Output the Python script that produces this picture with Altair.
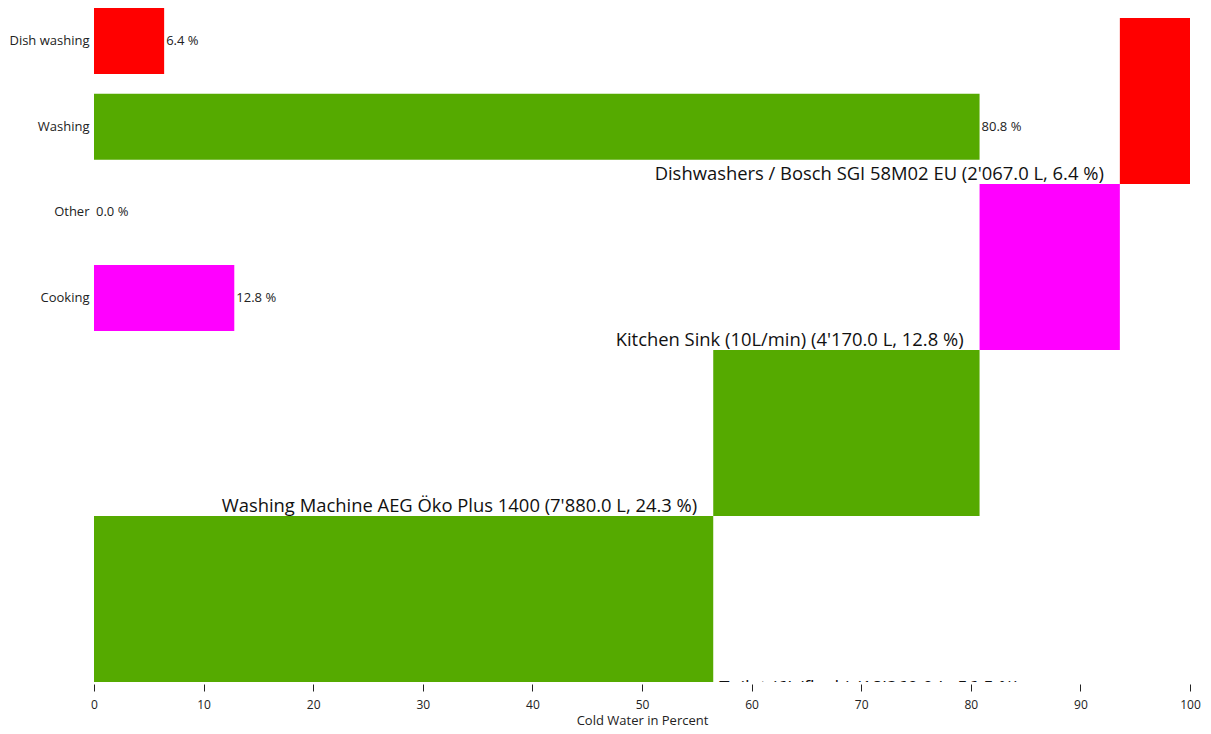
import altair as alt
import pandas as pd

# Category totals (top bars)
categories = ["Dish washing", "Washing", "Other", "Cooking"]
category_pct = [6.4, 80.8, 0.0, 12.8]
category_colors = ["#FF0000", "#55AA00", "#999999", "#FF00FF"]

# Individual consumers (stair rectangles)
items = [
    "Toilet (6L/flush)",
    "Washing Machine AEG Öko Plus 1400",
    "Kitchen Sink (10L/min)",
    "Dishwashers / Bosch SGI 58M02 EU",
]
item_category = ["Washing", "Washing", "Cooking", "Dish washing"]
item_liters = [18360.0, 7880.0, 4170.0, 2067.0]
item_pct = [56.5, 24.3, 12.8, 6.4]
item_step = [1, 2, 3, 4]

FONT = "Open Sans"

cat_df = pd.DataFrame({"cat": categories, "pct": category_pct})
cat_df["label"] = cat_df["pct"].map(lambda v: f"{v:.1f} %")


def fmt_l(v):
    return f"{v:,.1f}".replace(",", "'")


it = pd.DataFrame({
    "item": items, "cat": item_category, "liters": item_liters,
    "pct": item_pct, "step": item_step,
})
it["end"] = it["pct"].cumsum()
it["start"] = it["end"] - it["pct"]
it["bottom"] = it["step"] - 1
it["label"] = [f"{n} ({fmt_l(l)} L, {p:.1f} %)" for n, l, p in zip(it["item"], it["liters"], it["pct"])]

main_labels = it.iloc[1:].copy()
first_label = it.iloc[:1].copy()

x_scale = alt.Scale(domain=[0, 100], nice=False, zero=True)
color_scale = alt.Scale(domain=categories, range=category_colors)
y_band = alt.Scale(domain=categories, range=[-1, 322], paddingInner=0.23, paddingOuter=0)
y_step = alt.Scale(domain=[0, 4], range=[673, 9], nice=False, zero=False)

x_axis = alt.Axis(
    values=list(range(0, 101, 10)), domain=False, grid=False, tickSize=7, offset=2,
    tickColor="#222", labelColor="#222", titleColor="#222", labelFlush=False,
    labelFont=FONT, titleFont=FONT, labelFontSize=12, titleFontSize=13,
    titleFontWeight="normal", labelPadding=8, titlePadding=4,
)

bars = alt.Chart(cat_df).mark_bar().encode(
    x=alt.X("pct:Q", scale=x_scale, axis=x_axis, title="Cold Water in Percent"),
    y=alt.Y("cat:N", scale=y_band, sort=categories, title=None,
            axis=alt.Axis(ticks=False, domain=False, labelPadding=5, labelFont=FONT,
                          labelFontSize=13, labelColor="#222", minExtent=86, maxExtent=86)),
    color=alt.Color("cat:N", scale=color_scale, legend=None),
)
bar_text = alt.Chart(cat_df).mark_text(
    align="left", baseline="middle", dx=2, font=FONT, fontSize=13, color="#222"
).encode(
    x=alt.X("pct:Q", scale=x_scale),
    y=alt.Y("cat:N", scale=y_band, sort=categories),
    text="label:N",
)

stairs = alt.Chart(it).mark_rect().encode(
    x=alt.X("start:Q", scale=x_scale),
    x2="end:Q",
    y=alt.Y("step:Q", scale=y_step, axis=None),
    y2="bottom:Q",
    color=alt.Color("cat:N", scale=color_scale, legend=None),
)
stair_text = alt.Chart(main_labels).mark_text(
    align="right", baseline="alphabetic", dx=-16, dy=-4, font=FONT, fontSize=18.4, color="#111"
).encode(
    x=alt.X("start:Q", scale=x_scale),
    y=alt.Y("bottom:Q", scale=y_step, axis=None),
    text="label:N",
)
first_text = alt.Chart(first_label).mark_text(
    align="left", baseline="alphabetic", dx=6, dy=12, font=FONT, fontSize=18.4, color="#111", clip=True
).encode(
    x=alt.X("end:Q", scale=x_scale),
    y=alt.Y("bottom:Q", scale=y_step, axis=None),
    text="label:N",
)

chart = alt.layer(
    alt.layer(bars, bar_text),
    alt.layer(stairs, stair_text, first_text),
).resolve_scale(y="independent").properties(
    width=1096, height=673, padding={"left": 0, "top": 0, "right": 0, "bottom": 0}
).configure_view(stroke=None)

chart.save("out.html", embed_options={"renderer": "svg", "actions": False})
